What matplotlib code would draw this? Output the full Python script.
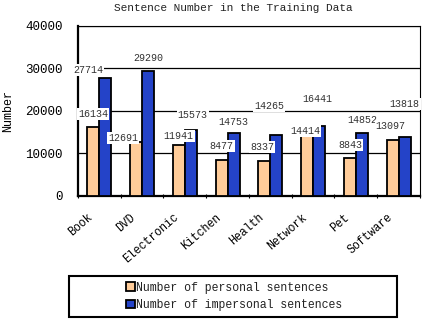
import matplotlib
matplotlib.use("Agg")
import matplotlib.pyplot as plt
import matplotlib.transforms as mtransforms
import numpy as np

plt.rcParams['font.family'] = ['Liberation Mono', 'DejaVu Sans']
plt.rcParams['text.color'] = '#222222'

# data
categories = ['Book', 'DVD', 'Electronic', 'Kitchen', 'Health', 'Network', 'Pet', 'Software']
personal = [16134, 12691, 11941, 8477, 8337, 14414, 8843, 13097]
impersonal = [27714, 29290, 15573, 14753, 14265, 16441, 14852, 13818]

# label offsets (pixels) to mimic the original placement
p_dx = [0, -13, 0, 0, -2, -2, 0, -2]
p_dy = [13, 4, 9, 14, 14, 4, 13, 14]
i_dx = [-17, 0, 2, 0, -7, -2, 0, 0]
i_dy = [8, 13, 15, 11, 29, 27, 13, 33]

fig = plt.figure(figsize=(4.23, 3.2), dpi=100)
ax = fig.add_axes([0.184, 0.3875, 0.809, 0.5315])

x = np.arange(len(categories))
w = 0.28
b1 = ax.bar(x - w/2, personal, w, color='#FFCC99', edgecolor='black', linewidth=1.3,
            label='Number of personal sentences', zorder=3)
b2 = ax.bar(x + w/2, impersonal, w, color='#2443C8', edgecolor='black', linewidth=1.3,
            label='Number of impersonal sentences', zorder=3)

for i in range(len(categories)):
    ax.annotate(str(personal[i]), (x[i] - w/2, personal[i]), xytext=(p_dx[i], p_dy[i]),
                textcoords='offset pixels', ha='center', va='center', fontsize=7.2,
                color='#333333', zorder=5,
                bbox=dict(boxstyle='square,pad=0.1', fc='white', ec='none'))
    ax.annotate(str(impersonal[i]), (x[i] + w/2, impersonal[i]), xytext=(i_dx[i], i_dy[i]),
                textcoords='offset pixels', ha='center', va='center', fontsize=7.2,
                color='#333333', zorder=5,
                bbox=dict(boxstyle='square,pad=0.1', fc='white', ec='none'))

ax.set_xlim(-0.5, len(categories) - 0.5)
ax.set_ylim(0, 40000)
ax.set_yticks([0, 10000, 20000, 30000, 40000])
ax.tick_params(axis='y', length=0, labelsize=9, pad=11)
ax.yaxis.grid(True, color='black', linewidth=0.9, zorder=1)
ax.set_axisbelow(True)

ax.set_xticks(x)
ax.set_xticklabels(categories, rotation=41, ha='right', rotation_mode='anchor', fontsize=8.3)
ax.tick_params(axis='x', length=0, pad=11)
shift = mtransforms.ScaledTranslation(-12/100, 0, fig.dpi_scale_trans)
for lbl in ax.get_xticklabels():
    lbl.set_transform(lbl.get_transform() + shift)
ax.set_xticks(np.arange(len(categories) + 1) - 0.5, minor=True)
ax.tick_params(axis='x', which='minor', length=3, direction='inout', width=0.8)

for s in ['left', 'bottom']:
    ax.spines[s].set_linewidth(1.6)
for s in ['top', 'right']:
    ax.spines[s].set_linewidth(0.8)

ax.set_ylabel('Number', fontsize=8.5)
ax.yaxis.set_label_coords(-0.185, 0.5)
ax.set_title('Sentence Number in the Training Data', fontsize=8, pad=11, x=0.453)

# legend box drawn separately, entries sit inside it
fig.patches.append(plt.Rectangle((69/423, 3/320), 328/423, 41/320, transform=fig.transFigure,
                                 fill=False, edgecolor='black', linewidth=1.5))
fig.legend(handles=[b1, b2], loc='center', bbox_to_anchor=(234/423, 23.5/320),
           fontsize=8.3, frameon=False,
           handlelength=0.8, handleheight=0.8, handletextpad=0.1,
           borderpad=0.0, labelspacing=0.45, borderaxespad=0)

fig.savefig('out.png', dpi=100)
